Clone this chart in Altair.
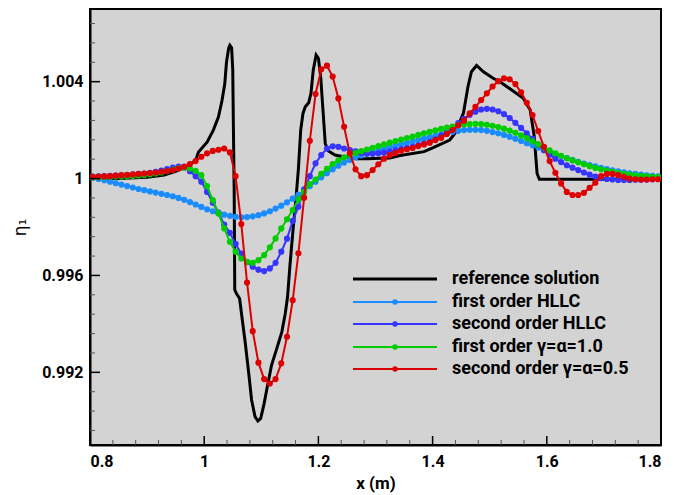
import altair as alt
import pandas as pd

# ---------------- data ----------------
x_grid = [round(0.795 + 0.01 * i, 3) for i in range(102)]

first_hllc = [
    1.00007, 1.00003, 0.99998, 0.99993, 0.99987, 0.99981, 0.99975, 0.99969, 0.99963, 0.99957,
    0.99952, 0.99947, 0.99942, 0.99937, 0.99932, 0.99927, 0.99920, 0.99912, 0.99903, 0.99893,
    0.99883, 0.99873, 0.99865, 0.99857, 0.99851, 0.99846, 0.99842, 0.99840, 0.99841, 0.99844,
    0.99849, 0.99856, 0.99865, 0.99876, 0.99888, 0.99902, 0.99917, 0.99933, 0.99951, 0.99969,
    0.99987, 1.00005, 1.00022, 1.00038, 1.00053, 1.00066, 1.00077, 1.00087, 1.00096, 1.00104,
    1.00110, 1.00117, 1.00123, 1.00129, 1.00135, 1.00141, 1.00147, 1.00153, 1.00159, 1.00165,
    1.00171, 1.00177, 1.00183, 1.00188, 1.00193, 1.00197, 1.00200, 1.00201, 1.00201, 1.00200,
    1.00197, 1.00192, 1.00187, 1.00180, 1.00173, 1.00164, 1.00155, 1.00146, 1.00137, 1.00128,
    1.00119, 1.00110, 1.00101, 1.00093, 1.00085, 1.00077, 1.00069, 1.00062, 1.00056, 1.00050,
    1.00044, 1.00039, 1.00034, 1.00030, 1.00026, 1.00022, 1.00019, 1.00016, 1.00013, 1.00011,
    1.00009, 1.00008,
]

second_hllc = [
    1.00008, 1.00008, 1.00009, 1.00010, 1.00011, 1.00012, 1.00013, 1.00014, 1.00016, 1.00018,
    1.00021, 1.00024, 1.00028, 1.00033, 1.00039, 1.00045, 1.00049, 1.00046, 1.00030, 1.00010,
    0.99987, 0.99945, 0.99900, 0.99860, 0.99810, 0.99776, 0.99730, 0.99690, 0.99655, 0.99636,
    0.99624, 0.99618, 0.99629, 0.99652, 0.99698, 0.99752, 0.99825, 0.99884, 0.99955, 1.00010,
    1.00063, 1.00097, 1.00124, 1.00133, 1.00131, 1.00124, 1.00118, 1.00112, 1.00106, 1.00102,
    1.00102, 1.00104, 1.00107, 1.00111, 1.00116, 1.00121, 1.00126, 1.00131, 1.00137, 1.00144,
    1.00152, 1.00162, 1.00177, 1.00193, 1.00211, 1.00229, 1.00247, 1.00263, 1.00276, 1.00285,
    1.00288, 1.00285, 1.00278, 1.00266, 1.00250, 1.00230, 1.00209, 1.00187, 1.00164, 1.00140,
    1.00117, 1.00099, 1.00082, 1.00068, 1.00055, 1.00045, 1.00035, 1.00025, 1.00016, 1.00008,
    1.00002, 0.99998, 0.99996, 0.99994, 0.99994, 0.99994, 0.99995, 0.99995, 0.99996, 0.99997,
    0.99998, 0.99999,
]

first_ga = [
    1.00005, 1.00005, 1.00005, 1.00006, 1.00007, 1.00008, 1.00009, 1.00010, 1.00011, 1.00013,
    1.00015, 1.00018, 1.00021, 1.00025, 1.00031, 1.00037, 1.00043, 1.00046, 1.00042, 1.00032,
    1.00014, 0.99969, 0.99911, 0.99856, 0.99794, 0.99739, 0.99698, 0.99670, 0.99656, 0.99652,
    0.99663, 0.99684, 0.99716, 0.99753, 0.99794, 0.99832, 0.99870, 0.99914, 0.99945, 0.99977,
    0.99996, 1.00020, 1.00040, 1.00060, 1.00075, 1.00088, 1.00098, 1.00106, 1.00113, 1.00120,
    1.00127, 1.00134, 1.00141, 1.00148, 1.00155, 1.00161, 1.00167, 1.00173, 1.00180, 1.00187,
    1.00193, 1.00199, 1.00205, 1.00210, 1.00215, 1.00220, 1.00223, 1.00225, 1.00226, 1.00225,
    1.00222, 1.00218, 1.00213, 1.00206, 1.00198, 1.00189, 1.00178, 1.00167, 1.00154, 1.00141,
    1.00128, 1.00116, 1.00104, 1.00094, 1.00084, 1.00075, 1.00067, 1.00059, 1.00051, 1.00044,
    1.00038, 1.00033, 1.00028, 1.00024, 1.00020, 1.00016, 1.00013, 1.00011, 1.00009, 1.00007,
    1.00006, 1.00005,
]

second_ga = [
    1.00006, 1.00007, 1.00008, 1.00009, 1.00010, 1.00012, 1.00014, 1.00015, 1.00017, 1.00019,
    1.00021, 1.00023, 1.00025, 1.00028, 1.00031, 1.00035, 1.00041, 1.00049, 1.00060, 1.00072,
    1.00090, 1.00104, 1.00114, 1.00119, 1.00124, 1.00108, 1.00010, 0.99812, 0.99571, 0.99370,
    0.99240, 0.99172, 0.99154, 0.99172, 0.99237, 0.99347, 0.99498, 0.99691, 0.99921, 1.00156,
    1.00349, 1.00451, 1.00466, 1.00421, 1.00331, 1.00214, 1.00104, 1.00038, 1.00010, 1.00014,
    1.00035, 1.00059, 1.00082, 1.00097, 1.00106, 1.00115, 1.00121, 1.00126, 1.00134, 1.00141,
    1.00148, 1.00159, 1.00168, 1.00184, 1.00200, 1.00220, 1.00239, 1.00269, 1.00296, 1.00324,
    1.00352, 1.00380, 1.00402, 1.00414, 1.00410, 1.00390, 1.00356, 1.00313, 1.00262, 1.00196,
    1.00131, 1.00072, 1.00024, 0.99980, 0.99945, 0.99932, 0.99932, 0.99941, 0.99962, 0.99983,
    1.00010, 1.00019, 1.00019, 1.00014, 1.00007, 1.00000, 0.99997, 0.99996, 0.99996, 0.99997,
    0.99997, 0.99997,
]

ref_x = [0.795, 0.85, 0.90, 0.93, 0.95, 0.97, 0.985, 0.99, 1.005, 1.016, 1.025, 1.031, 1.036,
         1.039, 1.043, 1.045, 1.048, 1.050, 1.051, 1.0525, 1.0535, 1.057, 1.062, 1.066, 1.072,
         1.078, 1.083, 1.089, 1.094, 1.099, 1.105, 1.111, 1.118, 1.128, 1.136, 1.142, 1.146,
         1.150, 1.156, 1.161, 1.165, 1.169, 1.173, 1.177, 1.183, 1.187, 1.191, 1.196, 1.200,
         1.204, 1.208, 1.212, 1.217, 1.229, 1.244, 1.267, 1.285, 1.325, 1.343, 1.385, 1.401,
         1.430, 1.439, 1.454, 1.462, 1.468, 1.477, 1.489, 1.506, 1.518, 1.559, 1.571, 1.578,
         1.583, 1.587, 1.805]
ref_y = [1.00000, 1.00000, 1.00005, 1.00015, 1.00030, 1.00050, 1.00075, 1.00110, 1.00150,
         1.00200, 1.00255, 1.00320, 1.00390, 1.00480, 1.00540, 1.00550, 1.00540, 1.00450,
         1.00240, 0.99950, 0.99540, 0.99523, 0.99505, 0.99430, 0.99320, 0.99196, 0.99086,
         0.99017, 0.98999, 0.99010, 0.99072, 0.99147, 0.99230, 0.99305, 0.99367, 0.99443,
         0.99512, 0.99636, 0.99801, 0.99925, 1.00040, 1.00200, 1.00269, 1.00296, 1.00313,
         1.00352, 1.00448, 1.00510, 1.00496, 1.00420, 1.00283, 1.00145, 1.00115, 1.00097,
         1.00090, 1.00082, 1.00082, 1.00085, 1.00095, 1.00111, 1.00128, 1.00159, 1.00186,
         1.00270, 1.00380, 1.00441, 1.00467, 1.00441, 1.00414, 1.00400, 1.00331, 1.00283,
         1.00173, 1.00021, 0.99997, 0.99997]

series_names = ["first order HLLC", "second order HLLC",
                "first order \u03b3=\u03b1=1.0", "second order \u03b3=\u03b1=0.5"]
series_values = [first_hllc, second_hllc, first_ga, second_ga]
series_colors = ["#1a8cff", "#3535ff", "#00cc00", "#dd0000"]
ref_name = "reference solution"

x_major = [0.8, 1.0, 1.2, 1.4, 1.6, 1.8]
x_minor = [0.84, 0.88, 0.92, 0.96, 1.04, 1.08, 1.12, 1.16, 1.24, 1.28, 1.32, 1.36,
           1.44, 1.48, 1.52, 1.56, 1.64, 1.68, 1.72, 1.76]
y_major = [0.992, 0.996, 1.0, 1.004]
y_minor = [0.9896, 0.9904, 0.9912, 0.9928, 0.9936, 0.9944, 0.9952, 0.9968, 0.9976,
           0.9984, 0.9992, 1.0008, 1.0016, 1.0024, 1.0032, 1.0048, 1.0056, 1.0064]

W, H = 571, 436
FONT = "Roboto"

xs = alt.Scale(domain=[0.8, 1.8], nice=False, zero=False)
ys = alt.Scale(domain=[0.989, 1.007], nice=False, zero=False)

x_axis = alt.Axis(values=x_major, ticks=False, grid=False, domainColor="black",
                  domainWidth=2, labelFont=FONT, labelFontWeight="bold",
                  labelFontSize=16, labelColor="black", labelPadding=8,
                  labelExpr="datum.value == 1 ? '1' : format(datum.value, '.1f')",
                  title="x (m)", titleFont=FONT, titleFontSize=17, titleFontWeight="bold",
                  titleColor="black", titlePadding=6)
y_axis = alt.Axis(values=y_major, ticks=False, grid=False, domainColor="black",
                  domainWidth=2, labelFont=FONT, labelFontWeight="bold",
                  labelFontSize=16, labelColor="black", labelPadding=7,
                  labelExpr="datum.value == 1 ? '1' : format(datum.value, '.3f')",
                  title="\u03b7\u2081", titleFont="DejaVu Sans", titleFontSize=17,
                  titleFontWeight="normal", titleColor="black", titlePadding=12)


def X(field):
    return alt.X(field, scale=xs, axis=x_axis)


def Y(field):
    return alt.Y(field, scale=ys, axis=y_axis)


layers = []

# reference line
ref_df = pd.DataFrame({"x": ref_x, "y": ref_y})
layers.append(
    alt.Chart(ref_df).mark_line(color="black", strokeWidth=3, clip=True).encode(
        x=X("x:Q"), y=Y("y:Q"))
)

for name, vals, col in zip(series_names, series_values, series_colors):
    df = pd.DataFrame({"x": x_grid, "y": vals})
    base = alt.Chart(df).encode(x=X("x:Q"), y=Y("y:Q"))
    layers.append(base.mark_line(color=col, strokeWidth=2, clip=True))
    layers.append(base.mark_circle(color=col, size=38, opacity=1, clip=True))

# inward ticks
xmaj = pd.DataFrame({"x": x_major})
xmin = pd.DataFrame({"x": x_minor})
ymaj = pd.DataFrame({"y": y_major})
ymin = pd.DataFrame({"y": y_minor})
layers.append(alt.Chart(xmaj).mark_rule(color="black", strokeWidth=1.5).encode(
    x=X("x:Q"), y=alt.value(H), y2=alt.value(H - 9)))
layers.append(alt.Chart(xmin).mark_rule(color="#555555", strokeWidth=1).encode(
    x=X("x:Q"), y=alt.value(H), y2=alt.value(H - 5)))
layers.append(alt.Chart(ymaj).mark_rule(color="black", strokeWidth=1.5).encode(
    y=Y("y:Q"), x=alt.value(0), x2=alt.value(10)))
layers.append(alt.Chart(ymin).mark_rule(color="#555555", strokeWidth=1).encode(
    y=Y("y:Q"), x=alt.value(0), x2=alt.value(5)))

# legend
leg_rows = [270, 293, 315, 338, 360]
leg_names = [ref_name] + series_names
leg_colors = ["black"] + series_colors
for i, (nm, col, ry) in enumerate(zip(leg_names, leg_colors, leg_rows)):
    d = pd.DataFrame({"label": [nm]})
    layers.append(alt.Chart(d).mark_rule(color=col, strokeWidth=3 if i == 0 else 2).encode(
        x=alt.value(263), x2=alt.value(347), y=alt.value(ry)))
    if i > 0:
        layers.append(alt.Chart(d).mark_circle(color=col, size=30, opacity=1).encode(
            x=alt.value(305), y=alt.value(ry)))
    layers.append(alt.Chart(d).mark_text(align="left", baseline="middle", font=FONT,
                                         fontSize=18, fontWeight="bold", color="black").encode(
        x=alt.value(362), y=alt.value(ry), text="label:N"))

chart = alt.layer(*layers).properties(
    width=W, height=H,
    background="white",
    autosize=alt.AutoSizeParams(type="none"),
    padding={"left": 82, "top": 1, "right": 5, "bottom": 48},
).configure_view(
    fill="#d3d3d3", stroke="black", strokeWidth=2
)

chart.save("out.html", embed_options={"renderer": "svg", "actions": False})
